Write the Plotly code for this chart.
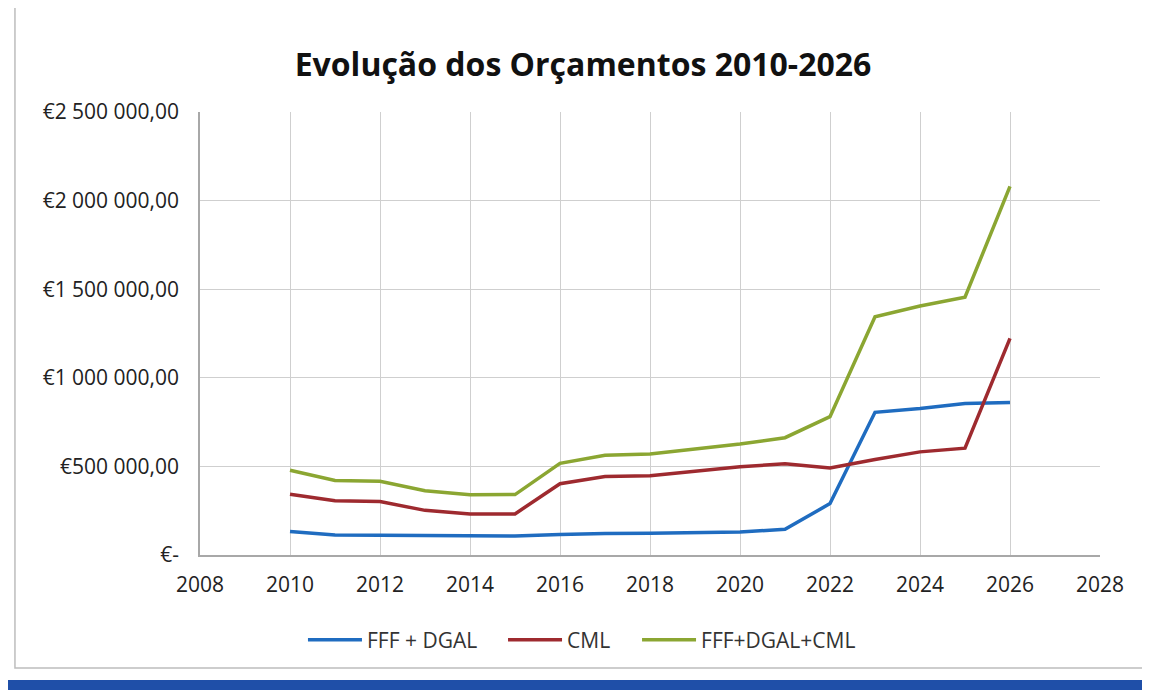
import plotly.graph_objects as go

years = list(range(2010, 2027))
fff_dgal = [133000, 113000, 112000, 109000, 106000, 107000, 115000, 122000, 123000,
            128000, 130000, 145000, 290000, 805000, 827000, 855000, 861000]
cml = [343000, 306000, 302000, 252000, 232000, 232000, 402000, 443000, 447000,
       473000, 498000, 515000, 491000, 539000, 582000, 603000, 1222000]
total = [478000, 420000, 416000, 363000, 340000, 341000, 517000, 563000, 570000,
         600000, 626000, 662000, 781000, 1344000, 1405000, 1455000, 2080000]

series_names = ["FFF + DGAL", "CML", "FFF+DGAL+CML"]
colors = ["#1f6cc0", "#9e2a2f", "#8ba632"]
legend_ids = ["legend", "legend2", "legend3"]
legend_x = [0.1144, 0.3367, 0.4856]

y_tickvals = [0, 500000, 1000000, 1500000, 2000000, 2500000]
y_ticktext = ["€-", "€500 000,00", "€1 000 000,00", "€1 500 000,00",
              "€2 000 000,00", "€2 500 000,00"]
x_tickvals = list(range(2008, 2029, 2))

fig = go.Figure()
for name, vals, col, lid in zip(series_names, [fff_dgal, cml, total], colors, legend_ids):
    fig.add_trace(go.Scatter(x=years, y=vals, mode="lines", name=name, legend=lid,
                             line=dict(color=col, width=3.5)))

font_family = "Open Sans, Liberation Sans, sans-serif"
legend_common = dict(orientation="h", xanchor="left", y=-0.192, yanchor="middle",
                     font=dict(size=21, color="#333333"), itemwidth=54,
                     bgcolor="rgba(0,0,0,0)")
fig.update_layout(
    width=1150, height=694,
    paper_bgcolor="white", plot_bgcolor="white",
    margin=dict(l=192, r=58, t=104, b=147, autoexpand=False),
    title=dict(text="<b>Evolução dos Orçamentos 2010-2026</b>",
               x=0.5, xanchor="center", y=0.918, yanchor="middle",
               font=dict(family=font_family, size=32, color="#111111")),
    font=dict(family=font_family, size=20, color="#222222"),
    showlegend=True,
    legend=dict(x=legend_x[0], **legend_common),
    legend2=dict(x=legend_x[1], **legend_common),
    legend3=dict(x=legend_x[2], **legend_common),
    xaxis=dict(range=[2008, 2028], tickvals=x_tickvals, showgrid=True,
               gridcolor="#cfcfcf", gridwidth=1.3, zeroline=False,
               showline=True, linecolor="#a8a8a8", linewidth=1.5, mirror=False,
               ticks="", ticklabelstandoff=10, tickfont=dict(size=21, color="#222222")),
    yaxis=dict(range=[0, 2500000], tickvals=y_tickvals, ticktext=y_ticktext,
               showgrid=True, gridcolor="#cfcfcf", gridwidth=1.3, zeroline=False,
               showline=True, linecolor="#a8a8a8", linewidth=1.5,
               ticks="", ticklabelstandoff=15, tickfont=dict(size=21, color="#222222")),
)

# frame of the scanned chart and blue band at the bottom
fig.add_shape(type="rect", xref="paper", yref="paper", layer="below",
              x0=-0.2056, x1=1.05, y0=-0.255, y1=1.35,
              line=dict(color="#bdbdbd", width=1.5))
fig.add_shape(type="rect", xref="paper", yref="paper", layer="below",
              x0=-0.25, x1=1.08, y0=-0.305, y1=-0.282,
              line=dict(width=0), fillcolor="#1f4fa8")

fig.write_html("out.html")
